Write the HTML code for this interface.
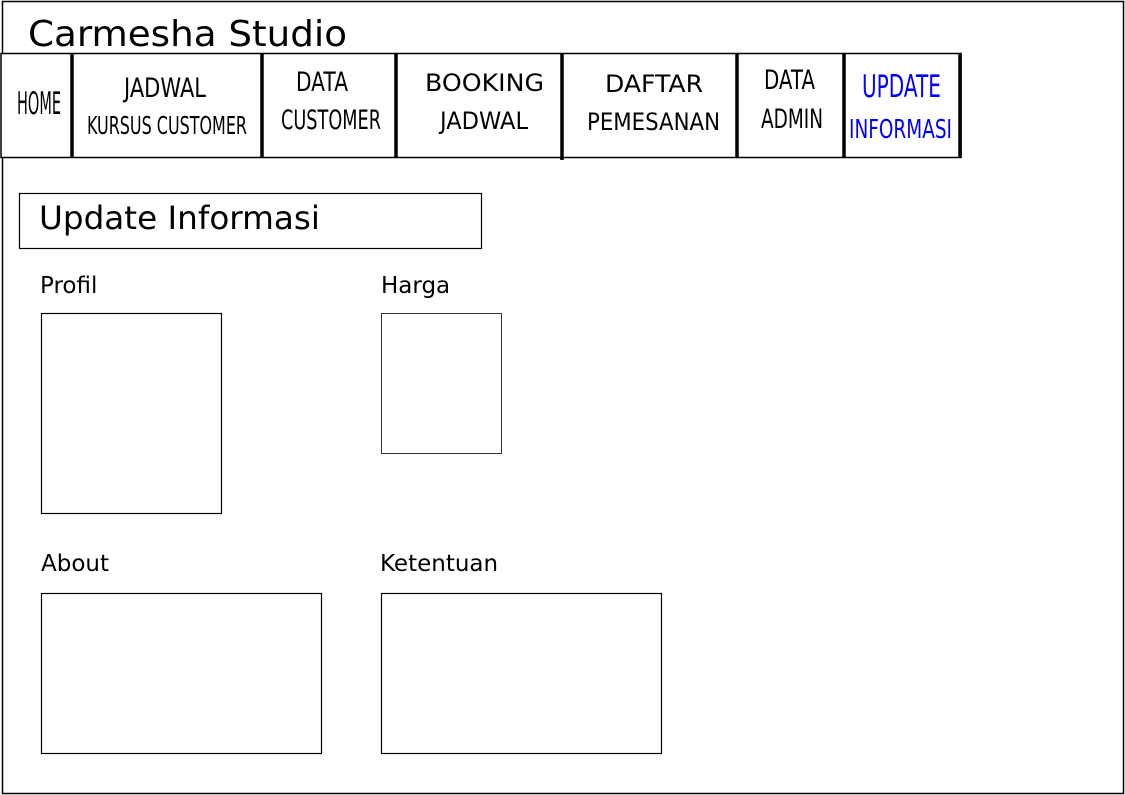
<!DOCTYPE html>
<html><head><style>body{margin:0;background:#fff}svg{display:block}</style></head><body>
<svg width="1125" height="795" xmlns="http://www.w3.org/2000/svg" font-family="DejaVu Sans, Liberation Sans, sans-serif">
<rect x="2.5" y="1.5" width="1121" height="792" fill="#fff" stroke="#000" stroke-width="1.5"/>
<text x="28" y="46" font-size="36" textLength="319" lengthAdjust="spacingAndGlyphs">Carmesha Studio</text>
<rect x="1" y="53.5" width="960" height="104" fill="#fff" stroke="#000" stroke-width="1.5"/>
<g stroke="#000" stroke-width="3.5">
<line x1="72" y1="53" x2="72" y2="158"/><line x1="262" y1="53" x2="262" y2="158"/>
<line x1="396" y1="53" x2="396" y2="158"/><line x1="562" y1="53" x2="562" y2="160"/>
<line x1="737" y1="53" x2="737" y2="158"/><line x1="844" y1="53" x2="844" y2="158"/>
<line x1="960" y1="53" x2="960" y2="158"/>
</g>
<g font-size="24">
<text x="17" y="114" font-size="31" textLength="44" lengthAdjust="spacingAndGlyphs">HOME</text>
<text x="124" y="97" font-size="27" textLength="82" lengthAdjust="spacingAndGlyphs">JADWAL</text>
<text x="87" y="134" font-size="25" textLength="160" lengthAdjust="spacingAndGlyphs">KURSUS CUSTOMER</text>
<text x="296" y="91" font-size="27" textLength="52" lengthAdjust="spacingAndGlyphs">DATA</text>
<text x="281" y="129" font-size="27" textLength="100" lengthAdjust="spacingAndGlyphs">CUSTOMER</text>
<text x="425" y="91" textLength="119" lengthAdjust="spacingAndGlyphs">BOOKING</text>
<text x="440" y="129" textLength="88" lengthAdjust="spacingAndGlyphs">JADWAL</text>
<text x="605" y="92" textLength="98" lengthAdjust="spacingAndGlyphs">DAFTAR</text>
<text x="587" y="130" textLength="133" lengthAdjust="spacingAndGlyphs">PEMESANAN</text>
<text x="764" y="89" font-size="27" textLength="51" lengthAdjust="spacingAndGlyphs">DATA</text>
<text x="761" y="128" font-size="27" textLength="62" lengthAdjust="spacingAndGlyphs">ADMIN</text>
<text x="862" y="97" font-size="31" fill="#0000ff" textLength="79" lengthAdjust="spacingAndGlyphs">UPDATE</text>
<text x="849" y="138" font-size="26" fill="#0000ff" textLength="103" lengthAdjust="spacingAndGlyphs">INFORMASI</text>
</g>
<rect x="19.5" y="193.5" width="462" height="55" fill="#fff" stroke="#000" stroke-width="1.2"/>
<text x="39" y="229" font-size="32" textLength="281" lengthAdjust="spacingAndGlyphs">Update Informasi</text>
<g font-size="23">
<text x="40" y="293">Profil</text>
<text x="381" y="293">Harga</text>
<text x="41" y="571">About</text>
<text x="380" y="571">Ketentuan</text>
</g>
<g fill="#fff" stroke="#000" stroke-width="1.2">
<rect x="41.5" y="313.5" width="180" height="200"/>
<rect x="381.5" y="313.5" width="120" height="140" stroke-width="0.8"/>
<rect x="41.5" y="593.5" width="280" height="160"/>
<rect x="381.5" y="593.5" width="280" height="160"/>
</g>
</svg>
</body></html>
